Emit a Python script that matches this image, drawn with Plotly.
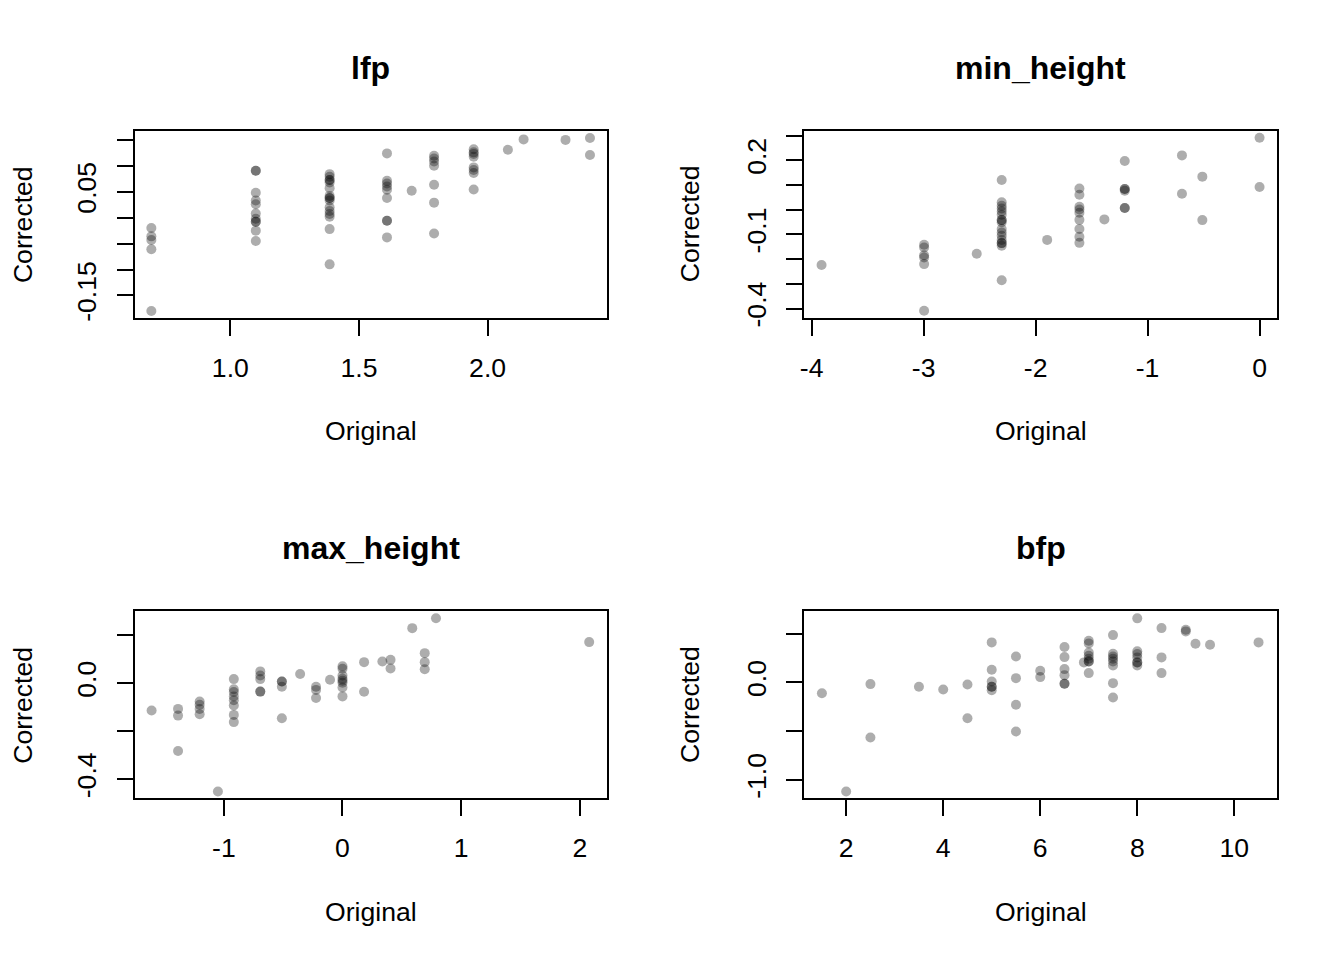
import plotly.graph_objects as go
from plotly.subplots import make_subplots

# lfp panel (log scale values on x)
lfp_x = [0.693, 0.693, 0.693, 0.693, 0.693,
         1.099, 1.099, 1.099, 1.099, 1.099, 1.099, 1.099, 1.099, 1.099, 1.099, 1.099,
         1.386, 1.386, 1.386, 1.386, 1.386, 1.386, 1.386, 1.386, 1.386, 1.386, 1.386,
         1.386, 1.386, 1.386, 1.386, 1.386,
         1.609, 1.609, 1.609, 1.609, 1.609, 1.609, 1.609, 1.609, 1.609,
         1.705,
         1.792, 1.792, 1.792, 1.792, 1.792, 1.792, 1.792,
         1.946, 1.946, 1.946, 1.946, 1.946, 1.946, 1.946, 1.946,
         2.079, 2.140, 2.303, 2.398, 2.398]
lfp_y = [-0.020, -0.036, -0.043, -0.061, -0.180,
         0.0905, 0.0905, 0.048, 0.033, 0.026, 0.008, -0.002, -0.008, -0.008, -0.025, -0.045,
         0.084, 0.079, 0.0725, 0.0725, 0.068, 0.057, 0.042, 0.038, 0.038, 0.033, 0.020,
         0.013, 0.007, 0.002, -0.022, -0.090,
         0.124, 0.071, 0.066, 0.060, 0.054, 0.038, -0.006, -0.006, -0.038,
         0.052,
         0.1195, 0.114, 0.1085, 0.100, 0.0635, 0.029, -0.0305,
         0.132, 0.126, 0.123, 0.1175, 0.097, 0.092, 0.086, 0.0545,
         0.131, 0.151, 0.150, 0.1535, 0.121]

# min_height panel
minh_x = [-3.912,
          -2.996, -2.996, -2.996, -2.996, -2.996, -2.996,
          -2.526,
          -2.303, -2.303, -2.303, -2.303, -2.303, -2.303, -2.303, -2.303, -2.303,
          -2.303, -2.303, -2.303, -2.303, -2.303, -2.303, -2.303, -2.303,
          -1.897,
          -1.609, -1.609, -1.609, -1.609, -1.609, -1.609, -1.609, -1.609, -1.609,
          -1.386,
          -1.204, -1.204, -1.204, -1.204, -1.204, -1.204,
          -0.693, -0.693,
          -0.511, -0.511,
          0.0, 0.0]
minh_y = [-0.224,
          -0.142, -0.153, -0.184, -0.193, -0.220, -0.409,
          -0.178,
          0.120, 0.030, 0.016, 0.005, -0.007, -0.020, -0.042, -0.042, -0.051,
          -0.078, -0.092, -0.105, -0.122, -0.135, -0.135, -0.146, -0.285,
          -0.122,
          0.086, 0.061, 0.012, 0.001, -0.012, -0.041, -0.078, -0.109, -0.134,
          -0.039,
          0.197, 0.084, 0.084, 0.077, 0.007, 0.007,
          0.220, 0.065,
          0.134, -0.042,
          0.291, 0.092]

# max_height panel
maxh_x = [-1.609,
          -1.386, -1.386, -1.386,
          -1.204, -1.204, -1.204, -1.204,
          -1.050,
          -0.916, -0.916, -0.916, -0.916, -0.916, -0.916, -0.916, -0.916,
          -0.693, -0.693, -0.693, -0.693, -0.693,
          -0.511, -0.511, -0.511, -0.511,
          -0.357,
          -0.223, -0.223, -0.223,
          -0.105,
          0.0, 0.0, 0.0, 0.0, 0.0, 0.0, 0.0, 0.0,
          0.182, 0.182,
          0.336,
          0.405, 0.405,
          0.588,
          0.693, 0.693, 0.693,
          0.788,
          2.079]
maxh_y = [-0.114,
          -0.107, -0.135, -0.282,
          -0.076, -0.090, -0.107, -0.129,
          -0.451,
          0.017, -0.025, -0.037, -0.055, -0.071, -0.093, -0.132, -0.162,
          0.049, 0.032, 0.017, -0.035, -0.035,
          0.007, 0.007, -0.015, -0.146,
          0.038,
          -0.015, -0.028, -0.062,
          0.014,
          0.070, 0.060, 0.032, 0.018, 0.010, 0.002, -0.018, -0.055,
          0.0875, -0.036,
          0.090,
          0.097, 0.061,
          0.229,
          0.125, 0.0875, 0.058,
          0.270,
          0.171]

# bfp panel
bfp_x = [1.5, 2.0, 2.5, 2.5, 3.5, 4.0, 4.5, 4.5,
         5.0, 5.0, 5.0, 5.0, 5.0, 5.0,
         5.5, 5.5, 5.5, 5.5,
         6.0, 6.0,
         6.5, 6.5, 6.5, 6.5, 6.5, 6.5,
         6.9,
         7.0, 7.0, 7.0, 7.0, 7.0, 7.0, 7.0, 7.0,
         7.5, 7.5, 7.5, 7.5, 7.5, 7.5, 7.5, 7.5,
         8.0, 8.0, 8.0, 8.0, 8.0, 8.0, 8.0,
         8.5, 8.5, 8.5,
         9.0, 9.0, 9.2, 9.5, 10.5]
bfp_y = [-0.110, -1.120, -0.017, -0.565, -0.045, -0.072, -0.021, -0.367,
         0.411, 0.130, 0.010, -0.045, -0.045, -0.079,
         0.267, 0.044, -0.229, -0.504,
         0.120, 0.055,
         0.363, 0.260, 0.137, 0.075, -0.014, -0.014,
         0.206,
         0.428, 0.401, 0.308, 0.274, 0.243, 0.216, 0.216, 0.096,
         0.486, 0.295, 0.267, 0.243, 0.216, 0.175, -0.007, -0.154,
         0.658, 0.319, 0.291, 0.257, 0.206, 0.206, 0.175,
         0.558, 0.257, 0.096,
         0.541, 0.524, 0.397, 0.387, 0.411]

titles = ["lfp", "min_height", "max_height", "bfp"]

panels = [
    # x, y, row, col, x range, y range, x ticks, x labels, y ticks, y labels
    (lfp_x, lfp_y, 1, 1, [0.628, 2.465], [-0.1927, 0.1678],
     [1.0, 1.5, 2.0], ["1.0", "1.5", "2.0"],
     [-0.15, -0.10, -0.05, 0.0, 0.05, 0.10, 0.15], ["-0.15", "", "", "", "0.05", "", ""]),
    (minh_x, minh_y, 1, 2, [-4.066, 0.160], [-0.4366, 0.320],
     [-4, -3, -2, -1, 0], ["-4", "-3", "-2", "-1", "0"],
     [-0.4, -0.3, -0.2, -0.1, 0.0, 0.1, 0.2, 0.3], ["-0.4", "", "", "-0.1", "", "", "0.2", ""]),
    (maxh_x, maxh_y, 2, 1, [-1.752, 2.231], [-0.479, 0.299],
     [-1, 0, 1, 2], ["-1", "0", "1", "2"],
     [-0.4, -0.2, 0.0, 0.2], ["-0.4", "", "0.0", ""]),
    (bfp_x, bfp_y, 2, 2, [1.137, 10.89], [-1.189, 0.730],
     [2, 4, 6, 8, 10], ["2", "4", "6", "8", "10"],
     [-1.0, -0.5, 0.0, 0.5], ["-1.0", "", "0.0", ""]),
]

# page offset / vertical squeeze seen in the rendered picture
OFF_X, OFF_Y, SY = 8, 7.5, 0.988
W, H = 1344 - 2 * OFF_X, 940


def fx(px):
    return (px - OFF_X) / W


def fy(py):
    return 1 - (py - OFF_Y) / SY / H


x_dom = {1: [fx(131), fx(605)], 2: [fx(802.7), fx(1277.3)]}
y_dom = {1: [fy(316.7), fy(130)], 2: [fy(796.7), fy(610)]}
title_y = {1: 67, 2: 547}
xlab_y = {1: 430, 2: 910}
ylab_x = {1: 19.0, 2: 688.2}

FONT = "Liberation Sans, Arial, Helvetica, sans-serif"

fig = make_subplots(rows=2, cols=2)

for px, py, r, c, xr, yr, xt, xl, yt, yl in panels:
    fig.add_trace(go.Scatter(
        x=px, y=py, mode="markers",
        marker=dict(size=10, color="rgba(0,0,0,0.32)", line=dict(width=0)),
        hoverinfo="x+y", showlegend=False
    ), row=r, col=c)
    fig.update_xaxes(domain=x_dom[c], range=xr, tickvals=xt, ticktext=xl,
                     showgrid=False, zeroline=False, showline=True, mirror=True,
                     linecolor="black", linewidth=2, ticks="outside", ticklen=16,
                     tickwidth=2, tickcolor="black", ticklabelstandoff=9,
                     tickfont=dict(family=FONT, size=26.6, color="black"),
                     row=r, col=c)
    fig.update_yaxes(domain=y_dom[r], range=yr, tickvals=yt, ticktext=yl,
                     showgrid=False, zeroline=False, showline=True, mirror=True,
                     linecolor="black", linewidth=2, ticks="outside", ticklen=16,
                     tickwidth=2, tickcolor="black", tickangle=-90, ticklabelstandoff=10,
                     tickfont=dict(family=FONT, size=26.6, color="black"),
                     row=r, col=c)

annotations = []
for i, t in enumerate(titles):
    r, c = i // 2 + 1, i % 2 + 1
    xc = sum(x_dom[c]) / 2
    annotations.append(dict(text="<b>" + t + "</b>", x=xc, y=fy(title_y[r]),
                            xref="paper", yref="paper", showarrow=False,
                            xanchor="center", yanchor="middle",
                            font=dict(family=FONT, size=32, color="black")))
    annotations.append(dict(text="Original", x=xc, y=fy(xlab_y[r]),
                            xref="paper", yref="paper", showarrow=False,
                            xanchor="center", yanchor="middle",
                            font=dict(family=FONT, size=26.6, color="black")))
    annotations.append(dict(text="Corrected", x=fx(ylab_x[c]),
                            y=sum(y_dom[r]) / 2, textangle=-90,
                            xref="paper", yref="paper", showarrow=False,
                            xanchor="center", yanchor="middle",
                            font=dict(family=FONT, size=26.6, color="black")))

fig.update_layout(
    width=W, height=H,
    margin=dict(l=0, r=0, t=0, b=0),
    plot_bgcolor="white", paper_bgcolor="white",
    annotations=annotations,
)

fig.write_html("out.html")
